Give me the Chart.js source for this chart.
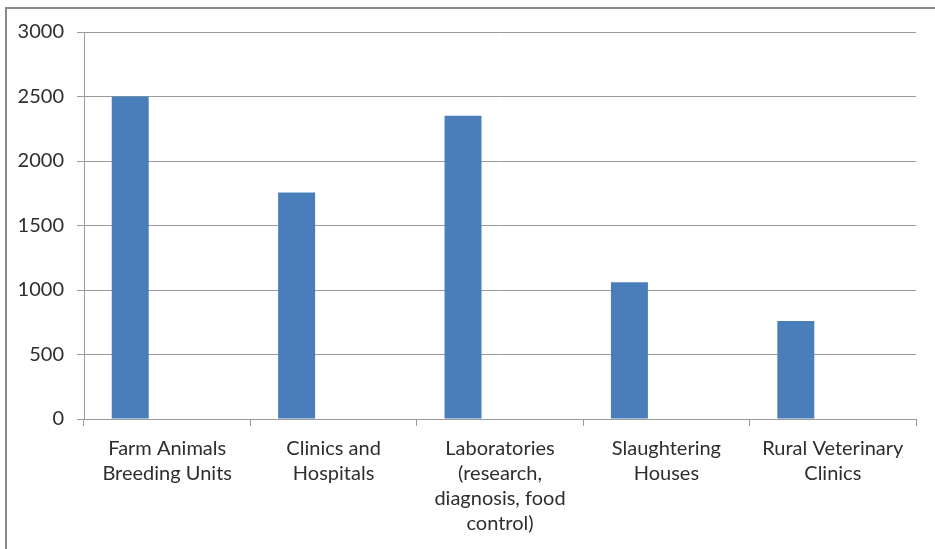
<!DOCTYPE html>
<html>
<head>
<meta charset="utf-8">
<script src="https://cdn.jsdelivr.net/npm/chart.js@4/dist/chart.umd.min.js"></script>
<style>
  html, body { margin: 0; padding: 0; background: #fff; overflow: hidden; }
  #wrap { position: relative; width: 935px; height: 549px; }
  #frame { position: absolute; left: 5px; top: 7px; width: 1000px; height: 1000px;
           border: 2px solid #8a8a8a; box-sizing: border-box; pointer-events: none; }
  canvas { position: absolute; left: 0; top: 0; }
</style>
</head>
<body>
<div id="wrap">
  <canvas id="c" width="935" height="549"></canvas>
  <div id="frame"></div>
</div>
<script>
// Workplace categories (multi-line labels)
const categories = [
  ['Farm Animals', 'Breeding Units'],
  ['Clinics and', 'Hospitals'],
  ['Laboratories', '(research,', 'diagnosis, food', 'control)'],
  ['Slaughtering', 'Houses'],
  ['Rural Veterinary', 'Clinics']
];
// Values per category
const values = [2500, 1755, 2350, 1060, 760];
// Two further series have no entries; they keep their slots in each group
const series2 = [];
const series3 = [];
// Value axis
const yMax = 3000;
const yStep = 500;

const FONT = 'Lato, "Open Sans", sans-serif';
const TEXT = '#2e2e2e';
const GRID = '#9a9a9a';

new Chart(document.getElementById('c'), {
  type: 'bar',
  data: {
    labels: categories,
    datasets: [
      { data: values, backgroundColor: '#4a7ebb', borderWidth: 0 },
      { data: series2, backgroundColor: '#c0504d', borderWidth: 0 },
      { data: series3, backgroundColor: '#9bbb59', borderWidth: 0 }
    ]
  },
  options: {
    responsive: false,
    animation: false,
    devicePixelRatio: 1,
    categoryPercentage: 3 / 4.5,
    barPercentage: 1,
    layout: { padding: { top: 32, right: 19, left: 0, bottom: 0 } },
    plugins: { legend: { display: false }, tooltip: { enabled: false } },
    scales: {
      x: {
        offset: true,
        grid: { offset: true, drawOnChartArea: false, drawTicks: true, tickLength: 7, color: GRID, lineWidth: 1 },
        border: { display: true, color: GRID, width: 1 },
        ticks: { color: TEXT, font: { family: FONT, size: 20, lineHeight: 1.25 }, padding: 10, maxRotation: 0, autoSkip: false },
        afterFit: (s) => { s.height = 130; }
      },
      y: {
        min: 0, max: yMax,
        ticks: { stepSize: yStep, color: TEXT, font: { family: FONT, size: 20 }, padding: 13,
                 callback: (v) => String(v) },
        grid: { color: GRID, lineWidth: 1, tickLength: 7, drawTicks: true },
        border: { display: true, color: GRID, width: 1 },
        afterFit: (s) => { s.width = 84; }
      }
    }
  }
});
</script>
</body>
</html>
